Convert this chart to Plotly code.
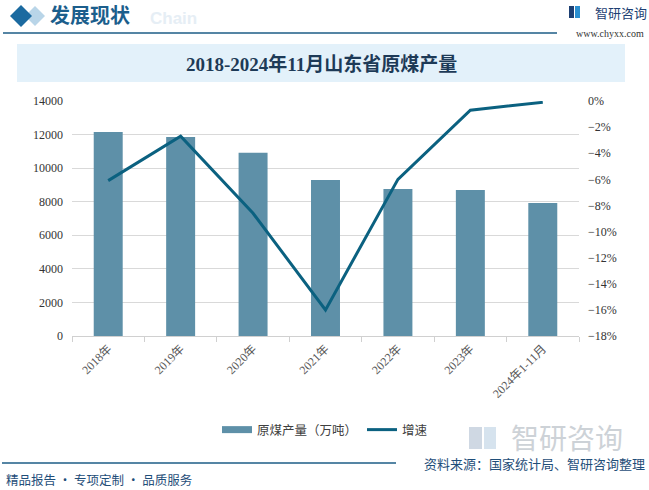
import plotly.graph_objects as go

categories = ["2018年", "2019年", "2020年", "2021年", "2022年", "2023年", "2024年1-11月"]
production = [12150, 11850, 10920, 9290, 8755, 8700, 7920]
growth = [-6.1, -2.7, -8.6, -16.0, -6.0, -0.7, -0.1]

W, H = 649, 490
L, R, T, B = 72, 579, 101, 336

BAR_COLOR = "#5e90a8"
LINE_COLOR = "#0b6180"


def px(x):
    return (x - L) / (R - L)


def py(y):
    return (B - y) / (B - T)


SERIF = "Liberation Serif, Times New Roman, Noto Sans CJK SC, serif"
SANS = "Noto Sans CJK SC, Microsoft YaHei, sans-serif"

fig = go.Figure()
fig.add_trace(go.Bar(
    x=categories, y=production, name="原煤产量（万吨）", showlegend=False,
    legendgroup="bar", marker=dict(color=BAR_COLOR, line=dict(width=0)), yaxis="y",
))
# legend entry for bars drawn as a wide swatch (same series)
fig.add_trace(go.Scatter(
    x=[None], y=[None], name="原煤产量（万吨）", mode="lines", legendgroup="bar",
    line=dict(color=BAR_COLOR, width=7), yaxis="y", hoverinfo="skip",
))
fig.add_trace(go.Scatter(
    x=categories, y=growth, name="增速", mode="lines",
    line=dict(color=LINE_COLOR, width=3), yaxis="y2",
))

shapes = []
# title box
shapes.append(dict(type="rect", xref="paper", yref="paper",
                   x0=px(17), x1=px(625), y0=py(82), y1=py(44),
                   fillcolor="#e3f1fa", line=dict(width=0), layer="below"))
# header line
shapes.append(dict(type="line", xref="paper", yref="paper",
                   x0=px(3), x1=px(557), y0=py(33), y1=py(33),
                   line=dict(color="#1d5d86", width=1.5)))
# footer line
shapes.append(dict(type="line", xref="paper", yref="paper",
                   x0=px(2), x1=px(396), y0=py(463), y1=py(463),
                   line=dict(color="#1d5d86", width=1.5)))


def diamond(cx, cy, r, color):
    pts = [(cx, cy - r), (cx + r, cy), (cx, cy + r), (cx - r, cy)]
    path = "M " + " L ".join(f"{px(a)},{py(b)}" for a, b in pts) + " Z"
    return dict(type="path", xref="paper", yref="paper", path=path,
                fillcolor=color, line=dict(width=0))


shapes.append(diamond(35, 16, 10, "#b9d5e8"))
shapes.append(diamond(21, 16, 11, "#1b6aa0"))
# small logo icon top right
shapes.append(dict(type="rect", xref="paper", yref="paper",
                   x0=px(569), x1=px(574), y0=py(18), y1=py(6),
                   fillcolor="#1d3f73", line=dict(width=0)))
shapes.append(dict(type="rect", xref="paper", yref="paper",
                   x0=px(575), x1=px(580), y0=py(18), y1=py(6),
                   fillcolor="#2a8fd0", line=dict(width=0)))
# faint logo icon near bottom-right watermark
shapes.append(dict(type="rect", xref="paper", yref="paper",
                   x0=px(469), x1=px(482), y0=py(449), y1=py(427),
                   fillcolor="#cfd8e3", line=dict(width=0)))
shapes.append(dict(type="rect", xref="paper", yref="paper",
                   x0=px(484), x1=px(496), y0=py(449), y1=py(427),
                   fillcolor="#d6e3ee", line=dict(width=0)))

annotations = [
    dict(text="<b>发展现状</b>", x=px(48), y=py(15), xref="paper", yref="paper",
         xanchor="left", yanchor="middle", showarrow=False,
         font=dict(family=SANS, size=20, color="#1b5e8c")),
    dict(text="<b>Chain</b>", x=px(148), y=py(18), xref="paper", yref="paper",
         xanchor="left", yanchor="middle", showarrow=False,
         font=dict(family="Liberation Sans, Arial", size=17, color="#e6eef5")),
    dict(text="智研咨询", x=px(593), y=py(13), xref="paper", yref="paper",
         xanchor="left", yanchor="middle", showarrow=False,
         font=dict(family=SANS, size=13, color="#1d3f73")),
    dict(text="www.chyxx.com", x=px(646), y=py(34), xref="paper", yref="paper",
         xanchor="right", yanchor="middle", showarrow=False,
         font=dict(family=SERIF, size=10, color="#333333")),
    dict(text="<b>2018-2024年11月山东省原煤产量</b>", x=px(321), y=py(64), xref="paper", yref="paper",
         xanchor="center", yanchor="middle", showarrow=False,
         font=dict(family=SERIF, size=19, color="#1d3a57")),
    dict(text="智研咨询", x=px(567), y=py(437), xref="paper", yref="paper",
         xanchor="center", yanchor="middle", showarrow=False,
         font=dict(family=SANS, size=28, color="#cdd2d7")),
    dict(text="资料来源：国家统计局、智研咨询整理", x=px(647), y=py(463), xref="paper", yref="paper",
         xanchor="right", yanchor="middle", showarrow=False,
         font=dict(family=SANS, size=13, color="#1f4e79")),
    dict(text="精品报告 · 专项定制 · 品质服务", x=px(4), y=py(479), xref="paper", yref="paper",
         xanchor="left", yanchor="middle", showarrow=False,
         font=dict(family=SANS, size=12.5, color="#1f4e79")),
]

fig.update_layout(
    width=W, height=H,
    margin=dict(l=L, r=W - R, t=T, b=H - B, pad=0),
    paper_bgcolor="white", plot_bgcolor="white",
    bargap=0.6,
    showlegend=True,
    legend=dict(orientation="h", x=px(325), y=py(430), xanchor="center", yanchor="middle",
                font=dict(family=SANS, size=12.5, color="#404040"), itemwidth=30,
                traceorder="normal"),
    xaxis=dict(
        type="category", tickangle=-45,
        tickfont=dict(family=SERIF, size=12, color="#595959"),
        showline=True, linecolor="#d0d0d0", linewidth=1,
        ticks="outside", tickson="boundaries", ticklen=5, tickcolor="#d0d0d0",
        showgrid=False,
    ),
    yaxis=dict(
        range=[0, 14000], dtick=2000, tickformat="d",
        tickfont=dict(family=SERIF, size=12, color="#333333"),
        gridcolor="#d9d9d9", gridwidth=1, zeroline=False, showline=False,
        ticks="", ticklabelstandoff=8,
    ),
    yaxis2=dict(
        range=[-18, 0], dtick=2, ticksuffix="%", overlaying="y", side="right",
        tickfont=dict(family=SERIF, size=12, color="#333333"),
        showgrid=False, zeroline=False, showline=False, ticks="", ticklabelstandoff=8,
    ),
    shapes=shapes,
    annotations=annotations,
)

fig.write_html("out.html", config={"displayModeBar": False},
               post_script="document.body.style.margin='0';document.body.style.overflow='hidden';")
